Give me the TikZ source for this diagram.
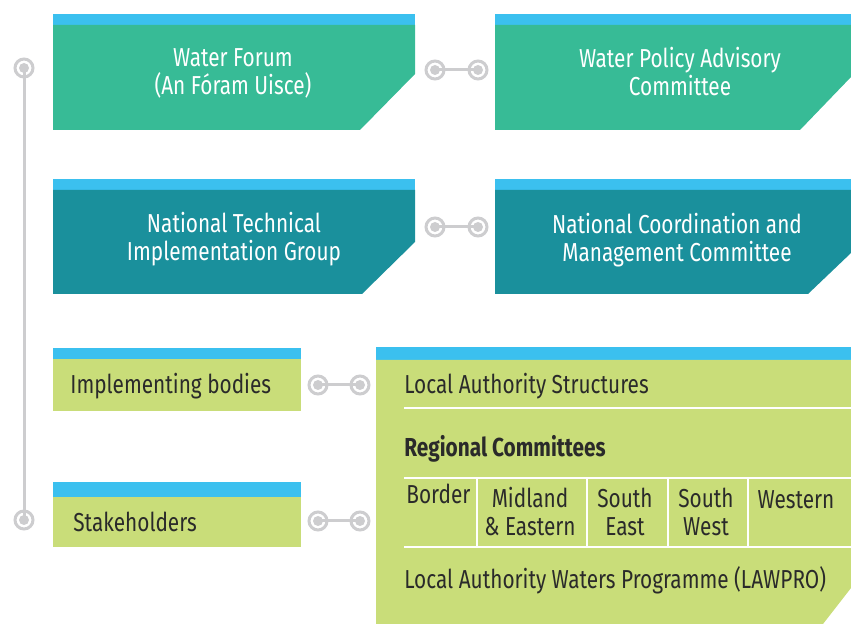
\documentclass[tikz,border=0pt]{standalone}
\usepackage{fontspec}
\setmainfont{Fira Sans}[FakeStretch=0.80]

\definecolor{topblue}{HTML}{3BC0EF}
\definecolor{forumgreen}{HTML}{37BB96}
\definecolor{techteal}{HTML}{1A909C}
\definecolor{lime}{HTML}{C9DD79}
\definecolor{linkgrey}{HTML}{CDCDCF}
\definecolor{ink}{HTML}{2A2A2A}

\tikzset{
    strip/.style={fill=topblue},
    title/.style={text=white, align=center, inner sep=0pt, font=\fontsize{13}{14}\selectfont},
    body/.style={text=ink, anchor=west, inner sep=0pt, font=\fontsize{13}{14}\selectfont},
    cell/.style={text=ink, align=center, inner sep=0pt, font=\fontsize{13}{14}\selectfont},
    hub/.style={circle, draw=linkgrey, line width=1.5pt, minimum size=9pt, inner sep=0pt,
        path picture={\fill[linkgrey] (path picture bounding box.center) circle (2.5pt);}},
    link/.style={draw=linkgrey, line width=1.5pt},
    rule/.style={draw=white, line width=0.8pt},
}

\begin{document}
\begin{tikzpicture}[x=0.5pt, y=-0.5pt]
    \useasboundingbox (0,0) rectangle (851,624);

    % national level
    \fill[strip] (53,14) rectangle (415,25);
    \fill[forumgreen] (53,25) -- (415,25) -- (415,74) -- (360,130) -- (53,130) -- cycle;
    \node[title] (forum) at (233,73) {Water Forum\\(An Fóram Uisce)};

    \fill[strip] (495,14) rectangle (851,25);
    \fill[forumgreen] (495,25) -- (851,25) -- (851,77) -- (800,130) -- (495,130) -- cycle;
    \node[title] (policy) at (680,72) {Water Policy Advisory\\Committee};

    \fill[strip] (53,179) rectangle (415,190);
    \fill[techteal] (53,190) -- (415,190) -- (415,242) -- (362,294) -- (53,294) -- cycle;
    \node[title] (ntig) at (234,239) {National Technical\\Implementation Group};

    \fill[strip] (495,179) rectangle (851,190);
    \fill[techteal] (495,190) -- (851,190) -- (851,253) -- (808,294) -- (495,294) -- cycle;
    \node[title] (ncmc) at (677,240) {National Coordination and\\Management Committee};

    % local level
    \fill[strip] (53,348) rectangle (301,359);
    \fill[lime] (53,359) rectangle (301,411);
    \node[body] (impl) at (70,386) {Implementing bodies};

    \fill[strip] (53,482) rectangle (301,497);
    \fill[lime] (53,497) rectangle (301,547);
    \node[body] (stake) at (73,522) {Stakeholders};

    \fill[strip] (376,347) rectangle (851,360);
    \fill[lime] (376,360) -- (851,360) -- (851,588) -- (823,624) -- (376,624) -- cycle;
    \draw[rule] (404,408) -- (851,408);
    \draw[rule] (404,478) -- (851,478);
    \draw[rule] (404,547) -- (851,547);
    \foreach \x in {477,587,668,748}
        \draw[rule] (\x,478) -- (\x,547);

    \node[body] (las) at (404,386) {Local Authority Structures};
    \node[body, font=\fontsize{13}{14}\selectfont\bfseries] (regional) at (404,449) {Regional Committees};
    \node[body] (border) at (406,494) {Border};
    \node[cell] (midland) at (530,512) {Midland\\\& Eastern};
    \node[cell] (southeast) at (625,512) {South\\East};
    \node[cell] (southwest) at (706,512) {South\\West};
    \node[cell, anchor=north] (western) at (796,490) {Western};
    \node[body] (lawpro) at (404,580) {Local Authority Waters Programme (LAWPRO)};

    % connectors
    \node[hub] (h-top) at (24,68) {};
    \node[hub] (h-bot) at (24,520) {};
    \node[hub] (h1a) at (435,70) {};
    \node[hub] (h1b) at (478,70) {};
    \node[hub] (h2a) at (435,227) {};
    \node[hub] (h2b) at (478,227) {};
    \node[hub] (h3a) at (318,385) {};
    \node[hub] (h3b) at (360,385) {};
    \node[hub] (h4a) at (318,521) {};
    \node[hub] (h4b) at (360,521) {};

    \draw[link] (h-top.center) -- (h-bot.center);
    \draw[link] (h1a.center) -- (h1b.center);
    \draw[link] (h2a.center) -- (h2b.center);
    \draw[link] (h3a.center) -- (h3b.center);
    \draw[link] (h4a.center) -- (h4b.center);
\end{tikzpicture}
\end{document}
